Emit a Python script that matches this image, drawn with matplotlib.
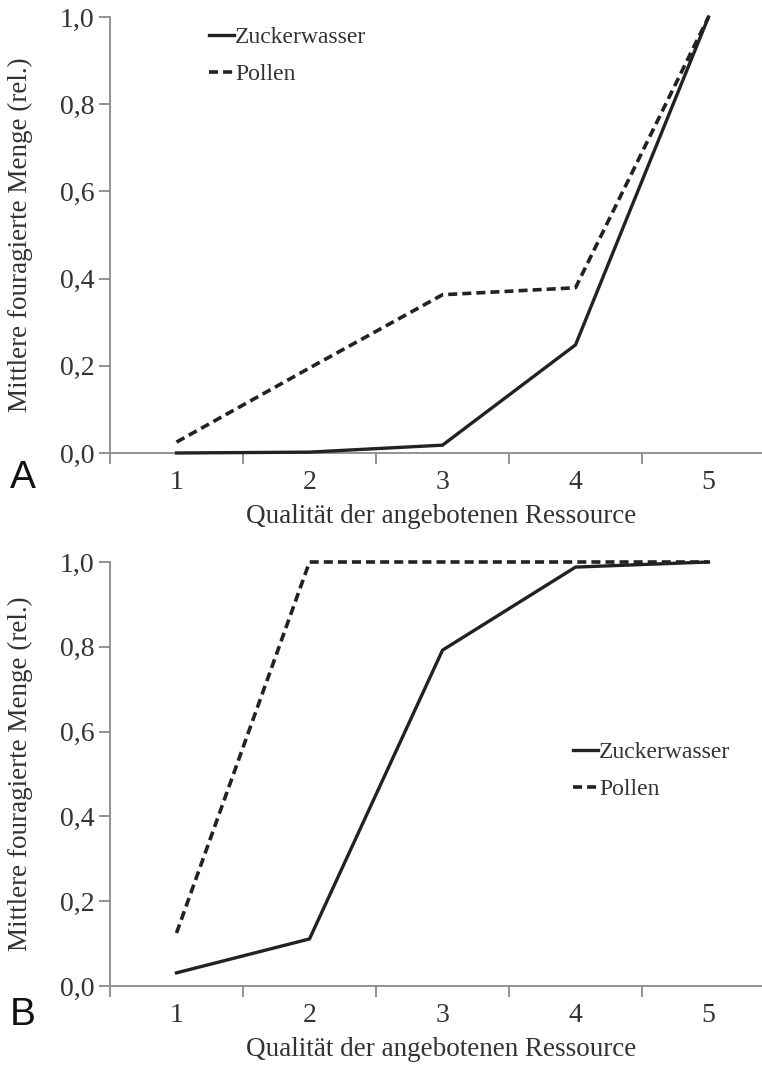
import matplotlib
matplotlib.use("Agg")
import matplotlib.pyplot as plt
from matplotlib.ticker import FixedLocator, FuncFormatter

# ---- data ----
categories = [1, 2, 3, 4, 5]
zucker_A = [0.0, 0.002, 0.018, 0.248, 1.0]
pollen_A = [0.025, 0.195, 0.363, 0.379, 1.0]
zucker_B = [0.031, 0.111, 0.792, 0.988, 1.0]
pollen_B = [0.125, 1.0, 1.0, 1.0, 1.0]
yticks = [0.0, 0.2, 0.4, 0.6, 0.8, 1.0]
series_labels = ["Zuckerwasser", "Pollen"]
xlabel = "Qualität der angebotenen Ressource"
ylabel = "Mittlere fouragierte Menge (rel.)"
panel_labels = ["A", "B"]

W, H = 762, 1077
fig = plt.figure(figsize=(W / 100, H / 100), dpi=100)

serif = "Liberation Serif"
axis_col = "#8a8a8a"
text_col = "#333333"
line_col = "#222222"

def px_axes(left, right, top, bottom):
    return [left / W, 1 - bottom / H, (right - left) / W, (bottom - top) / H]

panels = [
    (px_axes(110, 762, 17, 453), zucker_A, pollen_A, (0.152, 0.978), 478),
    (px_axes(110, 762, 562, 986), zucker_B, pollen_B, (0.71, 0.576), 1015),
]

for i, (rect, z, p, legpos, lab_y) in enumerate(panels):
    ax = fig.add_axes(rect)
    ax.plot(categories, z, color=line_col, lw=2.4, solid_joinstyle="miter",
            label=series_labels[0], clip_on=False)
    ax.plot(categories, p, color=line_col, lw=2.6, dashes=(2.5, 1.4),
            label=series_labels[1], clip_on=False)
    ax.set_xlim(0.5, 0.5 + (762 - 110) / 133.0)
    ax.set_ylim(0, 1.0)
    for s in ["top", "right"]:
        ax.spines[s].set_visible(False)
    for s in ["left", "bottom"]:
        ax.spines[s].set_color(axis_col)
        ax.spines[s].set_linewidth(1.3)
    ax.spines["bottom"].set_zorder(1)
    ax.yaxis.set_major_locator(FixedLocator(yticks))
    ax.yaxis.set_major_formatter(FuncFormatter(lambda v, pos: f"{v:.1f}".replace(".", ",")))
    ax.xaxis.set_major_locator(FixedLocator(categories))
    ax.xaxis.set_minor_locator(FixedLocator([c - 0.5 for c in categories] + [5.5]))
    ax.tick_params(axis="y", which="major", direction="out", length=8, width=1.3,
                   color=axis_col, labelsize=20, labelcolor=text_col, pad=3)
    ax.tick_params(axis="x", which="major", length=0, labelsize=20,
                   labelcolor=text_col, pad=12)
    ax.tick_params(axis="x", which="minor", direction="out", length=8, width=1.3,
                   color=axis_col)
    for t in ax.get_xticklabels() + ax.get_yticklabels():
        t.set_fontfamily(serif)
    ax.set_xlabel(xlabel, fontsize=19.5, family=serif, color=text_col)
    ax.xaxis.set_label_coords(0.508, -0.118 if i == 0 else -0.12)
    ax.set_ylabel(ylabel, fontsize=19.5, family=serif, color=text_col)
    ax.yaxis.set_label_coords(-0.118, 0.5)
    leg = ax.legend(loc="upper left", bbox_to_anchor=legpos, frameon=False,
                    prop={"family": serif, "size": 17}, handlelength=1.05,
                    handletextpad=0.05, borderpad=0, borderaxespad=0,
                    labelspacing=0.66)
    for t in leg.get_texts():
        t.set_color(text_col)
    fig.text(10 / W, 1 - lab_y / H, panel_labels[i], family="Liberation Sans",
             fontsize=28, color="#111111", ha="left", va="center")

fig.savefig("out.png", dpi=100)
